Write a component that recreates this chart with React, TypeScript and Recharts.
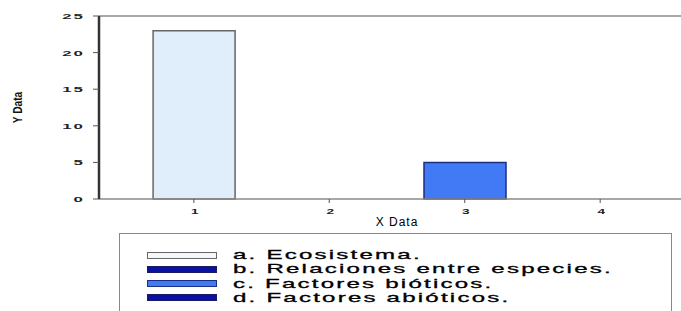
import React from "react";
import {
  BarChart,
  Bar,
  Cell,
  XAxis,
  YAxis,
  ReferenceLine,
} from "recharts";

// categories on the x axis and their bar heights
const xValues = [1, 2, 3, 4];
const yValues = [23, 0, 5, 0];

// legend labels and their colours (one per category)
const legendLabels = [
  "a. Ecosistema.",
  "b. Relaciones entre especies.",
  "c. Factores bióticos.",
  "d. Factores abióticos.",
];
const fillColors = ["#e0eefc", "#0a12a6", "#4279f5", "#0a12a6"];
const strokeColors = ["#666666", "#1a1a60", "#1c2e80", "#1a1a60"];

const yTicks = [0, 5, 10, 15, 20, 25];

const data = xValues.map((x, i) => ({ x, y: yValues[i] }));

const tickFont = "Liberation Sans, Arial, sans-serif";

function renderYTick(props: any) {
  const { x, y, payload } = props;
  return (
    <g key={`yt-${payload.value}`} transform={`translate(${x}, ${y + 3}) scale(2.1, 1)`}>
      <text
        x={0}
        y={0}
        textAnchor="end"
        fontFamily={tickFont}
        fontWeight="bold"
        fontSize={8}
        letterSpacing={1}
        fill="#222"
      >
        {payload.value}
      </text>
    </g>
  );
}

function renderXTick(props: any) {
  const { x, y, payload } = props;
  return (
    <g key={`xt-${payload.value}`} transform={`translate(${x + 1}, ${y + 9}) scale(1.7, 1)`}>
      <text
        x={0}
        y={0}
        textAnchor="middle"
        fontFamily={tickFont}
        fontWeight="bold"
        fontSize={8}
        fill="#222"
      >
        {payload.value}
      </text>
    </g>
  );
}

const App: React.FC = () => {
  return (
    <div
      style={{
        position: "absolute",
        left: 0,
        top: 0,
        width: 681,
        height: 311,
        overflow: "hidden",
        background: "#fff",
      }}
    >
      <BarChart
        width={700}
        height={232}
        data={data}
        margin={{ top: 16, right: 5, left: 0, bottom: 0 }}
      >
        <ReferenceLine y={25} stroke="#8a8a8a" strokeWidth={1.5} />
        <XAxis
          type="number"
          dataKey="x"
          scale="linear"
          domain={[0.3, 4.7]}
          allowDataOverflow={true}
          ticks={xValues}
          interval={0}
          padding={{ left: 0, right: 0 }}
          height={33}
          axisLine={{ stroke: "#8a8a8a", strokeWidth: 1.5 }}
          tickLine={{ stroke: "#555" }}
          tickSize={4}
          tick={renderXTick}
          label={{
            value: "X Data",
            position: "insideBottom",
            offset: 6,
            style: {
              fontFamily: tickFont,
              fontSize: 12,
              letterSpacing: 1,
              fill: "#000",
            },
          }}
        />
        <YAxis
          width={99}
          domain={[0, 25]}
          ticks={yTicks}
          interval={0}
          axisLine={{ stroke: "#333", strokeWidth: 2.5 }}
          tickLine={{ stroke: "#555" }}
          tickSize={6}
          tickMargin={8}
          tick={renderYTick}
          label={(props: any) => {
            const vb = props.viewBox;
            const cx = vb.x + 22;
            const cy = vb.y + vb.height / 2;
            return (
              <text
                transform={`translate(${cx}, ${cy}) rotate(-90) scale(0.78, 1)`}
                x={0}
                y={0}
                textAnchor="middle"
                fontFamily={tickFont}
                fontWeight="bold"
                fontSize={13}
                fill="#111"
              >
                Y Data
              </text>
            );
          }}
        />
        <Bar dataKey="y" barSize={82} isAnimationActive={false} strokeWidth={1.5}>
          {data.map((_, i) => (
            <Cell key={i} fill={fillColors[i]} stroke={strokeColors[i]} />
          ))}
        </Bar>
      </BarChart>

      {/* legend box */}
      <div
        style={{
          position: "absolute",
          left: 119,
          top: 233,
          width: 553,
          height: 100,
          border: "1px solid #888",
          boxSizing: "border-box",
        }}
      >
        {legendLabels.map((label, i) => (
          <div
            key={label}
            style={{
              position: "absolute",
              left: 27,
              top: 14 + i * 14.3,
              height: 14,
              display: "flex",
              alignItems: "center",
            }}
          >
            <div
              style={{
                width: 68,
                height: 5,
                background: i === 0 ? "#f4f8fc" : fillColors[i],
                border: `1px solid ${strokeColors[i]}`,
              }}
            />
            <div
              style={{
                marginLeft: 16,
                fontFamily: tickFont,
                fontSize: 13,
                letterSpacing: 1.2,
                color: "#000",
                whiteSpace: "nowrap",
                transform: "scaleX(1.85)",
                transformOrigin: "left center",
                lineHeight: "14px",
                WebkitTextStroke: "0.3px #000",
              }}
            >
              {label}
            </div>
          </div>
        ))}
      </div>
    </div>
  );
};

export default App;
